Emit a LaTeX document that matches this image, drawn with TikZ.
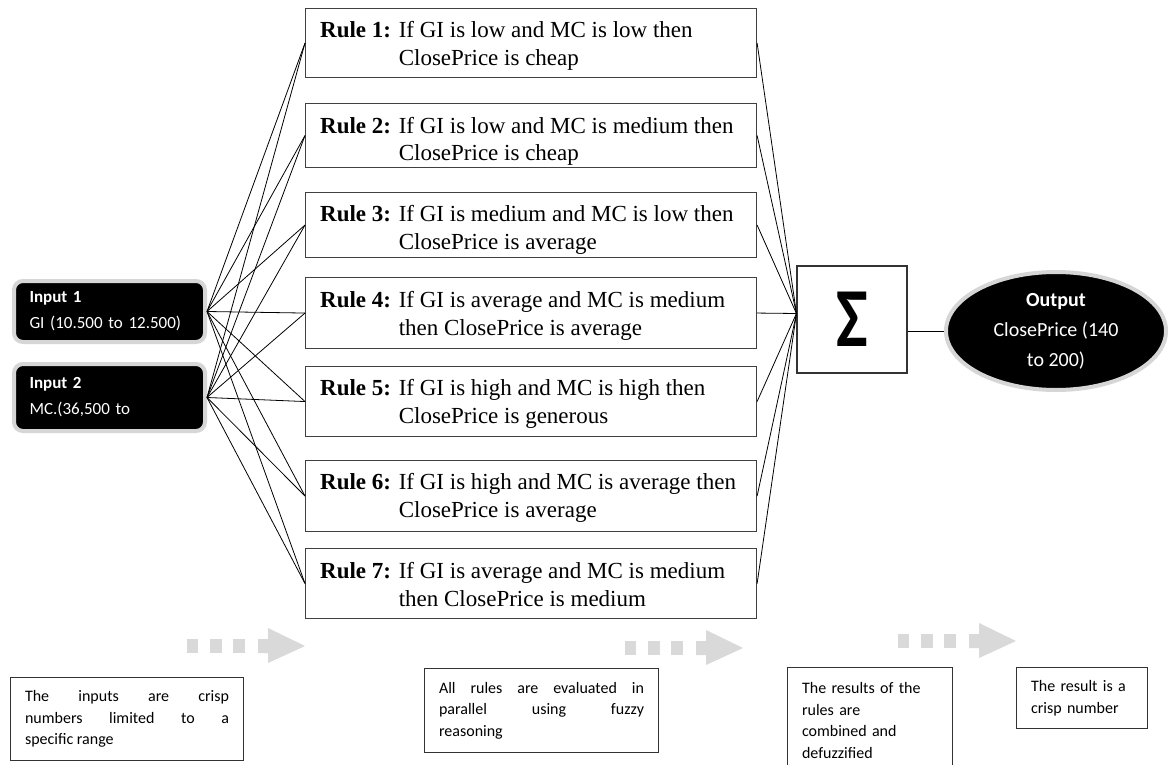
\documentclass[tikz,border=0pt]{standalone}
\usepackage{fontspec}
\setmainfont{Liberation Serif}
\newfontfamily\calibri{Carlito}
\usetikzlibrary{
        positioning,
        shapes.geometric
    }
\hyphenpenalty=10000
\exhyphenpenalty=10000
\tolerance=10000
\definecolor{arrowgray}{RGB}{217,217,217}
\definecolor{glowgray}{RGB}{214,214,214}
\tikzset{
    rulebox/.style={draw=black!75,line width=1.1pt,anchor=north west,minimum width=451pt,inner sep=0pt},
    ruletext/.style={anchor=base west,inner sep=0pt,font=\fontsize{23}{28}\selectfont},
    inbox/.style={fill=black,draw=glowgray,line width=4pt,rounded corners=9pt,
        minimum width=191pt,text width=160pt,inner xsep=15.5pt,align=left,
        text=white,font=\calibri\fontsize{17}{26}\selectfont},
    sumbox/.style={draw=black!80,line width=1.1pt,minimum width=110pt,minimum height=107pt,
        inner sep=0pt,font=\calibri\bfseries\fontsize{84}{84}\selectfont},
    outnode/.style={ellipse,fill=black,draw=glowgray,line width=4pt,minimum width=220pt,
        minimum height=118pt,align=center,text=white,font=\calibri\fontsize{20}{30}\selectfont},
    notebox/.style={draw=black!80,line width=1.1pt,anchor=north west,inner xsep=14.5pt,
        font=\calibri\fontsize{16}{21.5}\selectfont},
    dotarrow/.pic={
        \fill[arrowgray] (0,-7) rectangle (11,7);
        \fill[arrowgray] (23,-7) rectangle (35,7);
        \fill[arrowgray] (46,-7) rectangle (58,7);
        \fill[arrowgray] (71,-7) -- (81,-7) -- (81,-18) -- (118,0) -- (81,17) -- (81,7) -- (71,7) -- cycle;
    }
}

\begin{document}
\begin{tikzpicture}[x=1pt,y=-1pt]
    \useasboundingbox (0,0) rectangle (1169,765);
    \fill[white] (0,0) rectangle (1169,765);

    % rules
    \node[rulebox,minimum height=69pt] (r1) at (305,8)   {};
    \node[rulebox,minimum height=64pt] (r2) at (305,103) {};
    \node[rulebox,minimum height=65pt] (r3) at (305,192) {};
    \node[rulebox,minimum height=71pt] (r4) at (305,277) {};
    \node[rulebox,minimum height=70pt] (r5) at (305,366) {};
    \node[rulebox,minimum height=71pt] (r6) at (305,460) {};
    \node[rulebox,minimum height=70pt] (r7) at (305,548) {};

    \node[ruletext] (t1) at ([xshift=15pt,yshift=-30pt]r1.north west)
        {\textbf{Rule 1:} \parbox[t]{360pt}{If GI is low and MC is low then\\ClosePrice is cheap}};
    \node[ruletext] (t2) at ([xshift=15pt,yshift=-30pt]r2.north west)
        {\textbf{Rule 2:} \parbox[t]{360pt}{If GI is low and MC is medium then\\ClosePrice is cheap}};
    \node[ruletext] (t3) at ([xshift=15pt,yshift=-29pt]r3.north west)
        {\textbf{Rule 3:} \parbox[t]{360pt}{If GI is medium and MC is low then\\ClosePrice is average}};
    \node[ruletext] (t4) at ([xshift=15pt,yshift=-30pt]r4.north west)
        {\textbf{Rule 4:} \parbox[t]{360pt}{If GI is average and MC is medium\\then ClosePrice is average}};
    \node[ruletext] (t5) at ([xshift=15pt,yshift=-29pt]r5.north west)
        {\textbf{Rule 5:} \parbox[t]{360pt}{If GI is high and MC is high then\\ClosePrice is generous}};
    \node[ruletext] (t6) at ([xshift=15pt,yshift=-29pt]r6.north west)
        {\textbf{Rule 6:} \parbox[t]{360pt}{If GI is high and MC is average then\\ClosePrice is average}};
    \node[ruletext] (t7) at ([xshift=15pt,yshift=-30pt]r7.north west)
        {\textbf{Rule 7:} \parbox[t]{360pt}{If GI is average and MC is medium\\then ClosePrice is medium}};

    % inputs, sum, output
    \node[inbox,minimum height=61pt] (in1) at (109.5,311.5) {\textbf{Input 1}\\GI (10.500 to 12.500)};
    \node[inbox,minimum height=67pt] (in2) at (109.5,397.5) {\textbf{Input 2}\\MC.(36,500 to};
    \node[sumbox] (sum) at (852,319.5) {\scalebox{0.8}[1]{Σ}};
    \node[outnode] (out) at (1056,331) {\textbf{Output}\\ClosePrice (140\\to 200)};

    \begin{scope}[every edge/.style={draw,line width=0.8pt}]
    \path
        (in1.east) edge (r1.west)
        (in1.east) edge (r2.west)
        (in1.east) edge (r3.west)
        (in1.east) edge (r4.west)
        (in1.east) edge (r5.west)
        (in1.east) edge (r6.west)
        (in1.east) edge (r7.west)
        (in2.east) edge (r1.west)
        (in2.east) edge (r2.west)
        (in2.east) edge (r3.west)
        (in2.east) edge (r4.west)
        (in2.east) edge (r5.west)
        (in2.east) edge (r6.west)
        (in2.east) edge (r7.west)
        (r1.east) edge ([yshift=6pt]sum.west)
        (r2.east) edge ([yshift=6pt]sum.west)
        (r3.east) edge ([yshift=6pt]sum.west)
        (r4.east) edge ([yshift=6pt]sum.west)
        (r5.east) edge ([yshift=6pt]sum.west)
        (r6.east) edge ([yshift=6pt]sum.west)
        (r7.east) edge ([yshift=6pt]sum.west)
        (out.west -| sum.east) edge (out.west)
        ;
    \end{scope}

    % stages
    \pic at (187,646) {dotarrow};
    \pic at (625,648) {dotarrow};
    \pic at (898,641) {dotarrow};

    \node[notebox,minimum width=233pt,minimum height=83pt,text width=204pt,align=justify] (n1) at (10,677)
        {The inputs are crisp\linebreak numbers limited to a\linebreak specific range};
    \node[notebox,minimum width=234pt,minimum height=84pt,text width=205pt,align=justify] (n2) at (424,668)
        {All rules are evaluated in\linebreak parallel using fuzzy\linebreak reasoning};
    \node[notebox,minimum width=165pt,minimum height=106pt,text width=136pt,align=left] (n3) at (787,667)
        {The results of the\\rules are\\combined and\\defuzzified};
    \node[notebox,minimum width=131pt,minimum height=61pt,text width=102pt,align=left] (n4) at (1016,667)
        {The result is a\\crisp number};
\end{tikzpicture}
\end{document}
